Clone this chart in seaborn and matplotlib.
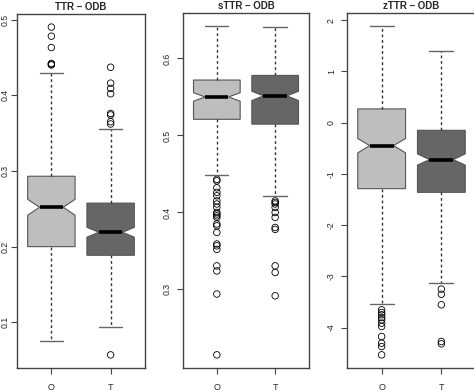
import pandas as pd
import matplotlib
matplotlib.use("Agg")
import matplotlib.pyplot as plt
import seaborn as sns

groups = ["O", "T"]
fills = ["#bebebe", "#666666"]

# box summaries per panel: (whislo, q1, cilo, med, cihi, q3, whishi) for O and T
titles = ["TTR \u2013 ODB", "sTTR \u2013 ODB", "zTTR \u2013 ODB"]

ttr_stats = [(0.0754, 0.200, 0.2415, 0.252, 0.2625, 0.293, 0.430),
             (0.094, 0.1886, 0.2125, 0.219, 0.2255, 0.2575, 0.356)]
ttr_out_o = [0.490, 0.478, 0.463, 0.442, 0.441, 0.440]
ttr_out_t = [0.437, 0.416, 0.409, 0.402, 0.376, 0.374, 0.365, 0.362, 0.057]

sttr_stats = [(0.448, 0.521, 0.5445, 0.550, 0.5555, 0.572, 0.642),
              (0.4216, 0.5147, 0.5454, 0.5514, 0.5574, 0.578, 0.641)]
sttr_out_o = [0.443, 0.441, 0.432, 0.426, 0.4216, 0.415, 0.411, 0.4065, 0.400,
              0.398, 0.3956, 0.3935, 0.385, 0.3826, 0.374, 0.359, 0.3566,
              0.352, 0.3306, 0.324, 0.294, 0.215]
sttr_out_t = [0.415, 0.413, 0.411, 0.4065, 0.400, 0.3935, 0.3805, 0.378,
              0.3306, 0.322, 0.2917]

zttr_stats = [(-3.537, -1.289, -0.59, -0.449, -0.31, 0.268, 1.883),
              (-3.133, -1.361, -0.83, -0.722, -0.61, -0.150, 1.394)]
zttr_out_o = [-3.654, -3.706, -3.751, -3.804, -3.849, -3.914, -3.980,
              -4.175, -4.305, -4.371, -4.533]
zttr_out_t = [-3.25, -3.35, -3.556, -4.273, -4.318]

yticks = [[0.1, 0.2, 0.3, 0.4, 0.5],
          [0.3, 0.4, 0.5, 0.6],
          [-4, -3, -2, -1, 0, 1, 2]]
ytick_labels = [["0.1", "0.2", "0.3", "0.4", "0.5"],
                ["0.3", "0.4", "0.5", "0.6"],
                ["-4", "-3", "-2", "-1", "0", "1", "2"]]

panels = [
    (ttr_stats, ttr_out_o, ttr_out_t),
    (sttr_stats, sttr_out_o, sttr_out_t),
    (zttr_stats, zttr_out_o, zttr_out_t),
]

sns.set_style("white")
plt.rcParams["font.family"] = ["Liberation Sans", "DejaVu Sans"]

fig = plt.figure(figsize=(4.74, 3.91), dpi=100)
rects = [[17 / 474, 23 / 391, 128 / 474, 354 / 391],
         [183 / 474, 23 / 391, 126 / 474, 355 / 391],
         [347 / 474, 23 / 391, 129 / 474, 355 / 391]]
ylabel_pads = [1.5, 4, 4]

for i, (stats, out_o, out_t) in enumerate(panels):
    ax = fig.add_axes(rects[i])
    bstats = []
    for g, s in zip(groups, stats):
        bstats.append(dict(label=g, whislo=s[0], q1=s[1], cilo=s[2], med=s[3],
                           cihi=s[4], q3=s[5], whishi=s[6], fliers=[]))
    bp = ax.bxp(bstats, positions=[0, 1], widths=0.8, capwidths=0.4,
                shownotches=True, patch_artist=True, showfliers=False,
                boxprops=dict(edgecolor="#555555", linewidth=0.8),
                medianprops=dict(color="black", linewidth=2.6),
                whiskerprops=dict(color="#333333", linewidth=1.0, linestyle=(0, (2, 2))),
                capprops=dict(color="#666666", linewidth=1.0))
    for patch, c in zip(bp["boxes"], fills):
        patch.set_facecolor(c)

    out = pd.DataFrame({
        "group": ["O"] * len(out_o) + ["T"] * len(out_t),
        "value": out_o + out_t,
    })
    out["x"] = out["group"].map({g: k for k, g in enumerate(groups)})
    sns.scatterplot(data=out, x="x", y="value", ax=ax, marker="o", s=22,
                    facecolor="none", edgecolor="black", linewidth=0.6,
                    legend=False)
    ax.collections[-1].set_facecolor("none")

    lo = min(min(out_o + out_t), min(s[0] for s in stats))
    hi = max(max(out_o + out_t), max(s[6] for s in stats))
    pad = (hi - lo) * 0.04
    ax.set_ylim(lo - pad, hi + pad)
    ax.set_xlim(-0.58, 1.58)

    ax.set_xticks([0, 1])
    ax.set_xticklabels(groups, fontsize=6.5)
    ax.set_yticks(yticks[i])
    ax.set_yticklabels(ytick_labels[i], fontsize=6.3, rotation=90, va="center")
    ax.tick_params(axis="both", length=4, width=0.8, color="#444444",
                   direction="out", left=True, bottom=True)
    ax.tick_params(axis="x", pad=7)
    ax.tick_params(axis="y", pad=ylabel_pads[i])
    ax.set_xlabel("")
    ax.set_ylabel("")
    for sp in ax.spines.values():
        sp.set_color("#444444")
        sp.set_linewidth(1.0)
    ax.set_title(titles[i], fontsize=7, fontweight="bold", pad=3)

fig.savefig("out.png", dpi=100)
